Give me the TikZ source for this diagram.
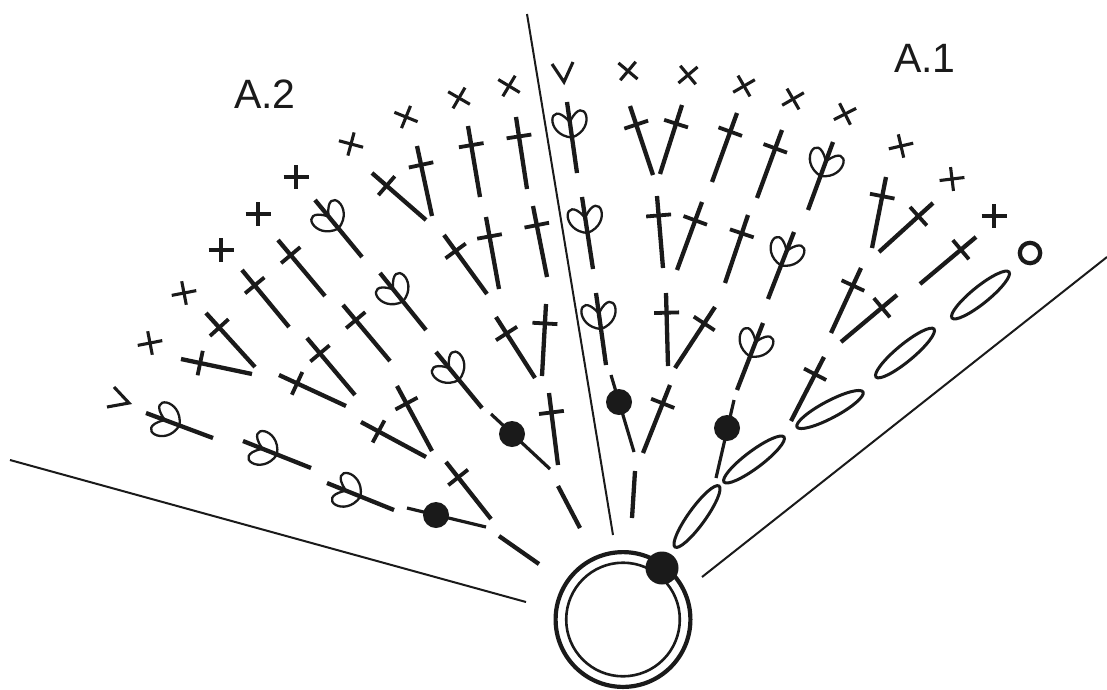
\documentclass[tikz,border=0pt]{standalone}
\usepackage{fontspec}
\setmainfont{Liberation Sans}
\usetikzlibrary{calc}
\definecolor{ink}{HTML}{1A1A1A}
\tikzset{
  every path/.style={line cap=butt},
  guide/.style={draw=ink,line width=2pt},
  stem/.style={draw=ink,line width=4.3pt},
  crossbar/.style={draw=ink,line width=3.8pt},
  petal/.style={draw=ink,line width=2.3pt},
  xarm/.style={draw=ink,line width=3.1pt},
  chainloop/.style={draw=ink,line width=3pt},
  thinstem/.style={draw=ink,line width=3.2pt},
  blob/.style={fill=ink},
  label/.style={text=ink,font=\fontsize{41}{41}\selectfont,inner sep=0pt,anchor=base west}
}
% tall stitch: base, tip
\newcommand{\tallst}[4]{%
  \draw[stem] (#1,#2) -- (#3,#4);
  \coordinate (bc) at ($(#1,#2)!0.73!(#3,#4)$);
  \draw[crossbar] ($(bc)!12.5pt!90:(#3,#4)$) -- ($(bc)!12.5pt!-90:(#3,#4)$);
}
% stitch with two petals: base, tip
\newcommand{\loopst}[4]{%
  \draw[stem] (#1,#2) -- (#3,#4);
  \pgfmathsetmacro{\stang}{atan2(#2-#4,#3-#1)-90}
  \begin{scope}[shift={($(#1,#2)!0.5!(#3,#4)$)},rotate=\stang]
    \draw[petal] (0,0) .. controls (-27,-6) and (-18,-42) .. (-1,-17);
    \draw[petal] (0,0) .. controls (27,-6) and (18,-42) .. (1,-17);
  \end{scope}
}
% small cross: centre, angle
\newcommand{\xst}[3]{%
  \begin{scope}[shift={(#1,#2)},rotate=#3]
    \draw[xarm] (-12.5,0) -- (12.5,0);
    \draw[xarm] (0,-12) -- (0,12);
  \end{scope}
}
% chain ellipse: end, end
\newcommand{\chainst}[4]{%
  \pgfmathsetmacro{\stang}{atan2(#2-#4,#3-#1)}
  \pgfmathsetmacro{\strad}{veclen(#3-#1,#4-#2)/2}
  \begin{scope}[shift={($(#1,#2)!0.5!(#3,#4)$)},rotate=\stang]
    \draw[chainloop] (0,0) ellipse [x radius=\strad,y radius=8.5];
  \end{scope}
}
\begin{document}
\begin{tikzpicture}[x=1pt,y=-1pt]
\useasboundingbox (0,0) rectangle (1107,689);
\fill[white] (0,0) rectangle (1107,689);

% sector lines
\coordinate (tl) at (527,14); \coordinate (tb) at (613,535);
\coordinate (ll) at (10,460); \coordinate (lb) at (526,602);
\coordinate (rl) at (702,577); \coordinate (rt) at (1107,257);
\draw[guide] (tl) -- (tb);
\draw[guide] (ll) -- (lb);
\draw[guide] (rl) -- (rt);

% labels
\node[label] (a2) at (234,108) {A.2};
\node[label] (a1) at (894,72) {A.1};

% ring
\draw[draw=ink,line width=4.2pt] (623,619.5) circle (67.4);
\draw[draw=ink,line width=2.6pt] (623,619.5) circle (56.8);
\fill[blob] (662,568) circle (16.5);

% A.2 crosses
\xst{150}{343}{11}\xst{184}{293}{11}\xst{221}{250}{0}\xst{258}{214}{0}
\xst{296}{177}{0}\xst{351}{144}{-15}\xst{406}{117}{-22}\xst{459}{98}{-30}\xst{509}{86}{-31}
% A.1 crosses
\xst{628}{71}{-40}\xst{688}{75}{40}\xst{744}{86}{30}\xst{793}{99}{30}\xst{845}{114}{27}
\xst{901}{146}{13}\xst{952}{179}{7}\xst{994}{216}{0}

% turning marks
\draw[xarm] (552,64) -- (564,82) -- (573,62);
\draw[xarm] (114,387) -- (129,403) -- (107,407);
\draw[draw=ink,line width=4.2pt] (1030,253) circle (10.2);

% A.2 tall stitches
\tallst{432}{216}{417}{146}
\tallst{426}{220}{372}{173}
\tallst{480}{197}{468}{126}
\tallst{527}{189}{516}{117}
\tallst{547}{277}{533}{206}
\tallst{499}{289}{486}{217}
\tallst{487}{294}{444}{235}
\tallst{542}{376}{546}{304}
\tallst{535}{378}{496}{317}
\tallst{558}{465}{549}{393}
\tallst{491}{519}{446}{462}
\tallst{432}{451}{397}{386}
\tallst{426}{457}{361}{422}
\tallst{390}{361}{343}{305}
\tallst{355}{395}{307}{338}
\tallst{346}{406}{279}{375}
\tallst{255}{367}{206}{313}
\tallst{252}{374}{181}{359}
\tallst{325}{296}{278}{240}
\tallst{289}{327}{242}{270}

% A.2 petal stitches
\loopst{362}{257}{315}{200}
\loopst{426}{330}{380}{273}
\loopst{482}{408}{436}{352}
\loopst{213}{438}{146}{413}
\loopst{311}{468}{243}{441}
\loopst{394}{510}{327}{483}

% A.1 petal stitches
\loopst{577}{173}{567}{102}
\loopst{593}{269}{582}{197}
\loopst{606}{365}{596}{293}
\loopst{808}{210}{833}{142}
\loopst{768}{299}{794}{232}
\loopst{737}{390}{763}{323}

% A.1 tall stitches
\tallst{653}{175}{630}{106}
\tallst{660}{174}{682}{105}
\tallst{712}{182}{737}{113}
\tallst{757}{198}{782}{130}
\tallst{663}{268}{657}{196}
\tallst{677}{270}{702}{202}
\tallst{725}{283}{748}{215}
\tallst{668}{366}{666}{293}
\tallst{675}{368}{715}{307}
\tallst{643}{453}{670}{385}
\tallst{872}{248}{886}{177}
\tallst{879}{252}{933}{203}
\tallst{920}{284}{976}{237}
\tallst{831}{333}{861}{268}
\tallst{841}{342}{897}{295}
\tallst{791}{421}{824}{357}

% slip stitches
\draw[thinstem] (407,508) -- (486,527); \fill[blob] (436,515) circle (13);
\draw[thinstem] (491,414) -- (550,469); \fill[blob] (512,434) circle (13);
\draw[thinstem] (611,375) -- (634,452); \fill[blob] (619,402) circle (13);
\draw[thinstem] (734,400) -- (716,478); \fill[blob] (727,428) circle (13);

% chain dashes
\draw[stem] (499,536) -- (539,564);
\draw[stem] (558,486) -- (580,528);
\draw[stem] (635,471) -- (632,518);

% chain ellipses
\chainst{952}{318}{1009}{272}
\chainst{876}{377}{934}{329}
\chainst{797}{427}{863}{392}
\chainst{724}{482}{784}{437}
\chainst{675}{547}{719}{486}
\end{tikzpicture}
\end{document}
